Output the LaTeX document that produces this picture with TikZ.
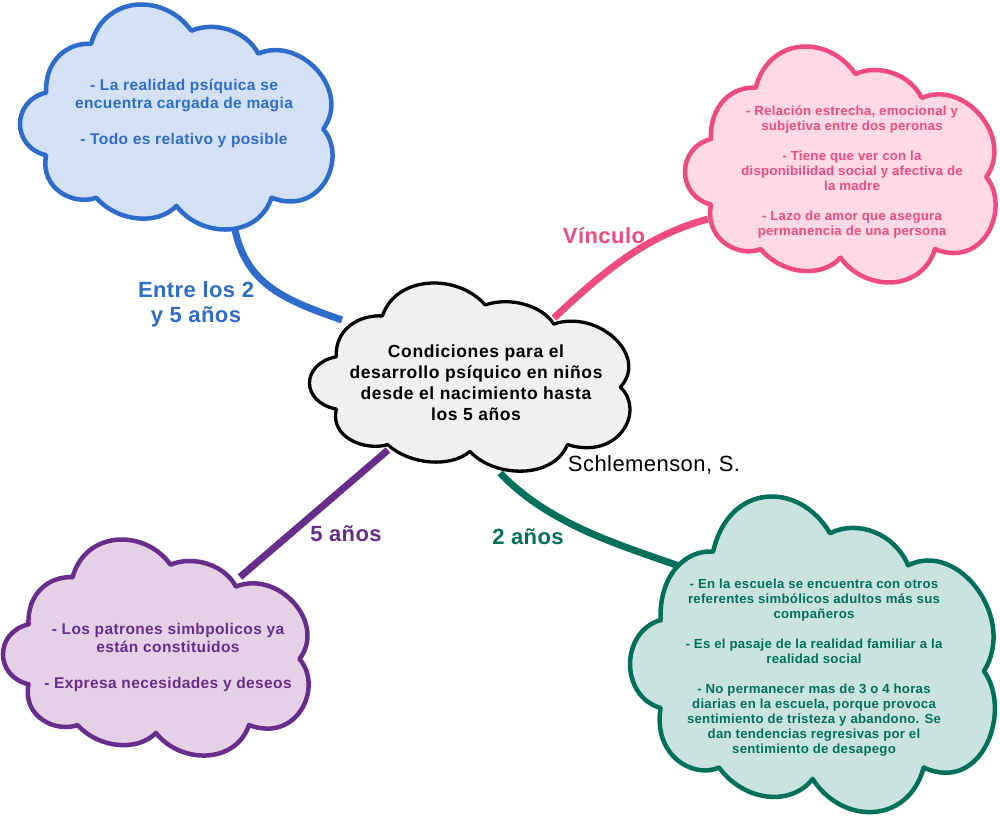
\documentclass[tikz,border=0pt]{standalone}
\usepackage{fontspec}
\setmainfont{Liberation Sans}
\definecolor{bluedark}{HTML}{2D6CCB}
\definecolor{bluefill}{HTML}{D4E1F5}
\definecolor{pinkdark}{HTML}{EF4A81}
\definecolor{pinkfill}{HTML}{FFD9E6}
\definecolor{greendark}{HTML}{00705C}
\definecolor{greenfill}{HTML}{CBE3DF}
\definecolor{purpledark}{HTML}{672D8C}
\definecolor{purplefill}{HTML}{E6D0E5}
\definecolor{mainfill}{HTML}{F0F0F3}
\tikzset{
  cloudline/.style={line width=4.5pt, line join=round},
  linkline/.style={line width=7pt},
  bubbletext/.style n args={3}{font=\bfseries\fontsize{#1}{#2}\selectfont\addfontfeatures{LetterSpace=#3}, align=center, inner sep=0pt},
  linklabel/.style={font=\bfseries\fontsize{22}{25}\selectfont\addfontfeatures{LetterSpace=2}, align=center, inner sep=0pt},
}
\newcommand{\cloudat}[5]{
\draw[#1,shift={(#2,#3)},xscale=#4,yscale=#5] (.084,.391)
  .. controls (.079,.246) and (.153,.167) .. (.226,.174)
  .. controls (.268,-.043) and (.458,-.051) .. (.542,.116)
  .. controls (.616,.072) and (.716,.116) .. (.753,.217)
  .. controls (.889,.138) and (1.047,.384) .. (.958,.551)
  .. controls (1.035,.674) and (.955,.94) .. (.795,.855)
  .. controls (.753,1.036) and (.574,1.036) .. (.495,.891)
  .. controls (.437,.978) and (.311,.964) .. (.242,.855)
  .. controls (.174,.891) and (.063,.819) .. (.084,.667)
  .. controls (-.026,.630) and (-.026,.428) .. cycle;
}
\begin{document}
\begin{tikzpicture}[x=1pt,y=-1pt]
\useasboundingbox (0,0) rectangle (1000,816);
\coordinate (blueend) at (235,230);
\coordinate (bluestart) at (342,320);
\coordinate (pinkend) at (708,219);
\coordinate (pinkstart) at (554,318);
\coordinate (purpleend) at (240,577);
\coordinate (purplestart) at (388,450);
\coordinate (greenend) at (682,567);
\coordinate (greenstart) at (500,473);
\draw[linkline,bluedark] (blueend) .. controls (247,285) and (285,300) .. (bluestart);
\draw[linkline,pinkdark] (pinkstart) .. controls (610,265) and (650,235) .. (pinkend);
\draw[linkline,purpledark] (purplestart) -- (purpleend);
\draw[linkline,greendark] (greenstart) .. controls (550,525) and (620,545) .. (greenend);
\cloudat{cloudline,draw=bluedark,fill=bluefill}{19.5}{4.5}{317}{226}
\cloudat{cloudline,draw=pinkdark,fill=pinkfill}{684.5}{46.5}{315}{237}
\cloudat{cloudline,draw=greendark,fill=greenfill}{629.5}{496.5}{370}{317}
\cloudat{cloudline,draw=purpledark,fill=purplefill}{2.5}{539.5}{310}{217}
\cloudat{line width=3.3pt,line join=round,draw=black,fill=mainfill}{309}{283}{325}{189}
\node[bubbletext={17.5}{21}{3.5},text=black] (maintext) at (476,383) {Condiciones para el\\desarrollo psíquico en niños\\desde el nacimiento hasta\\los 5 años};
\node[bubbletext={15.5}{18}{2.5},text=bluedark] (bluetext) at (184,113) {- La realidad psíquica se\\encuentra cargada de magia\\[\baselineskip]- Todo es relativo y posible};
\node[bubbletext={13.2}{15}{2},text=pinkdark] (pinktext) at (852,172) {- Relación estrecha, emocional y\\subjetiva entre dos peronas\\[\baselineskip]- Tiene que ver con la\\disponibilidad social y afectiva de\\la madre\\[\baselineskip]- Lazo de amor que asegura\\permanencia de una persona};
\node[bubbletext={13.2}{15}{2},text=greendark] (greentext) at (814,668) {- En la escuela se encuentra con otros\\referentes simbólicos adultos más sus\\compañeros\\[\baselineskip]- Es el pasaje de la realidad familiar a la\\realidad social\\[\baselineskip]- No permanecer mas de 3 o 4 horas\\diarias en la escuela, porque provoca\\sentimiento de tristeza y abandono. Se\\dan tendencias regresivas por el\\sentimiento de desapego};
\node[bubbletext={15.5}{18}{2.5},text=purpledark] (purpletext) at (168,657) {- Los patrones simbpolicos ya\\están constituidos\\[\baselineskip]- Expresa necesidades y deseos};
\node[linklabel,text=bluedark] (bluelabel) at (196,304) {Entre los 2\\y 5 años};
\node[linklabel,text=pinkdark] (pinklabel) at (604,236) {Vínculo};
\node[linklabel,text=purpledark] (purplelabel) at (346,534) {5 años};
\node[linklabel,text=greendark] (greenlabel) at (528,537) {2 años};
\node[font=\fontsize{22}{25}\selectfont\addfontfeatures{LetterSpace=2},inner sep=0pt] (authorlabel) at (654,465) {Schlemenson, S.};
\end{tikzpicture}
\end{document}
